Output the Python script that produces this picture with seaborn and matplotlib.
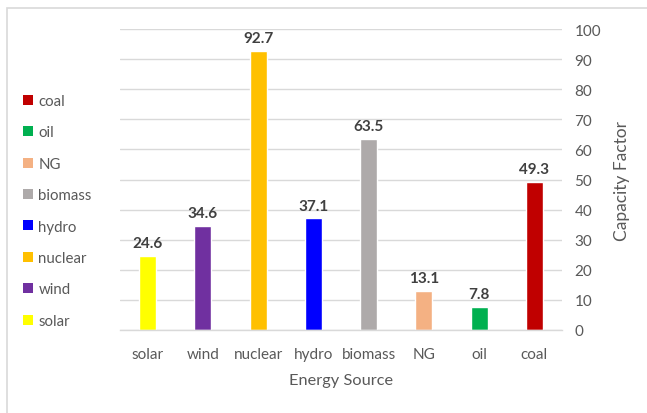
import matplotlib
matplotlib.use("Agg")
import matplotlib.pyplot as plt
from matplotlib.patches import Patch, Rectangle
import seaborn as sns
import pandas as pd

sources = ["solar", "wind", "nuclear", "hydro", "biomass", "NG", "oil", "coal"]
capacity = [24.6, 34.6, 92.7, 37.1, 63.5, 13.1, 7.8, 49.3]
colors = ["#FFFF00", "#7030A0", "#FFC000", "#0000FF", "#AEAAAA", "#F4B183", "#00B050", "#C00000"]
y_ticks = [0, 10, 20, 30, 40, 50, 60, 70, 80, 90, 100]

sns.set_theme(style="white")
plt.rcParams["font.family"] = ["Lato", "DejaVu Sans"]

df = pd.DataFrame({"source": sources, "cf": capacity})
palette = dict(zip(sources, colors))

fig = plt.figure(figsize=(6.47, 4.14), dpi=100)
ax = fig.add_axes([0.1855, 0.2005, 0.683, 0.727])

sns.barplot(data=df, x="source", y="cf", hue="source", palette=palette,
            order=sources, hue_order=sources, width=0.31, dodge=False,
            legend=False, saturation=1, ax=ax)

ax.set_ylim(0, 100)
ax.set_yticks(y_ticks)
ax.yaxis.tick_right()
ax.yaxis.set_label_position("right")
ax.grid(axis="y", color="#D9D9D9", linewidth=1.0)
ax.set_axisbelow(True)
for side in ["left", "right", "top"]:
    ax.spines[side].set_visible(False)
ax.spines["bottom"].set_color("#D9D9D9")
ax.spines["bottom"].set_linewidth(1.0)
ax.tick_params(axis="both", length=0, labelsize=11, labelcolor="#595959")
ax.tick_params(axis="x", pad=12)
ax.tick_params(axis="y", pad=9)

ax.set_xlabel("Energy Source", fontsize=11.8, color="#595959", labelpad=9)
ax.set_ylabel("Capacity Factor", fontsize=12.5, color="#595959", labelpad=9)

for cont in ax.containers:
    ax.bar_label(cont, fmt="%.1f", padding=4, fontsize=11, fontweight="bold",
                 color="#404040")

handles = [Patch(facecolor=palette[s], edgecolor="none") for s in sources[::-1]]
fig.legend(handles, sources[::-1], loc="upper left", bbox_to_anchor=(0.027, 0.785),
           frameon=False, fontsize=10.8, labelcolor="#595959",
           handlelength=0.65, handleheight=0.65, handletextpad=0.35,
           labelspacing=1.16, borderaxespad=0)

fig.patches.append(Rectangle((0.011, -0.01), 1.1, 0.988, transform=fig.transFigure,
                             fill=False, edgecolor="#D9D9D9", linewidth=1.2))

fig.savefig("out.png", dpi=100)
